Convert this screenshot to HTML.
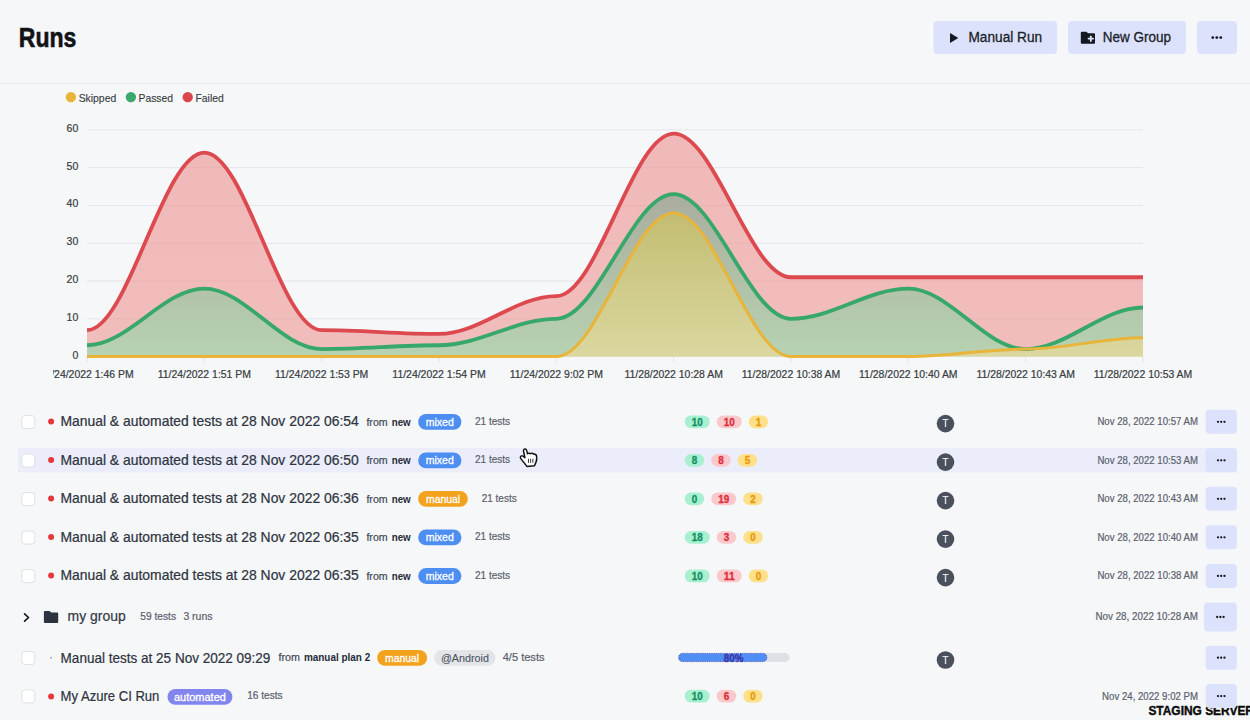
<!DOCTYPE html>
<html><head><meta charset="utf-8"><title>Runs</title>
<style>
html,body{margin:0;padding:0;background:#f6f7f9;width:1250px;height:720px;overflow:hidden;font-family:"Liberation Sans",sans-serif;}
svg{display:block;}
</style></head><body>
<svg width="1250" height="720" viewBox="0 0 1250 720" font-family="Liberation Sans, sans-serif">
<defs>
<clipPath id="chartclip"><rect x="53" y="110" width="1197" height="290"/></clipPath>
<linearGradient id="gr" x1="0" y1="0" x2="0" y2="1"><stop offset="0" stop-color="#ec908e" stop-opacity="0.6"/><stop offset="1" stop-color="#ee9694" stop-opacity="0.6"/></linearGradient>
<linearGradient id="gg" x1="0" y1="0" x2="0" y2="1"><stop offset="0" stop-color="#7ba48c" stop-opacity="0.6"/><stop offset="1" stop-color="#90e1ab" stop-opacity="0.6"/></linearGradient>
<linearGradient id="gy" x1="0" y1="0" x2="0" y2="1"><stop offset="0" stop-color="#d2c552" stop-opacity="0.6"/><stop offset="1" stop-color="#f3db94" stop-opacity="0.6"/></linearGradient>
</defs>
<g id="chart" clip-path="url(#chartclip)">
<line x1="87.0" y1="318.82" x2="1143.0" y2="318.82" stroke="#e3e5ea" stroke-width="1"/>
<line x1="87.0" y1="281.03" x2="1143.0" y2="281.03" stroke="#e3e5ea" stroke-width="1"/>
<line x1="87.0" y1="243.25" x2="1143.0" y2="243.25" stroke="#e3e5ea" stroke-width="1"/>
<line x1="87.0" y1="205.47" x2="1143.0" y2="205.47" stroke="#e3e5ea" stroke-width="1"/>
<line x1="87.0" y1="167.68" x2="1143.0" y2="167.68" stroke="#e3e5ea" stroke-width="1"/>
<line x1="87.0" y1="129.90" x2="1143.0" y2="129.90" stroke="#e3e5ea" stroke-width="1"/>
<line x1="87.00" y1="356.6" x2="87.00" y2="362.6" stroke="#e0e2e6" stroke-width="1"/>
<line x1="204.33" y1="356.6" x2="204.33" y2="362.6" stroke="#e0e2e6" stroke-width="1"/>
<line x1="321.67" y1="356.6" x2="321.67" y2="362.6" stroke="#e0e2e6" stroke-width="1"/>
<line x1="439.00" y1="356.6" x2="439.00" y2="362.6" stroke="#e0e2e6" stroke-width="1"/>
<line x1="556.33" y1="356.6" x2="556.33" y2="362.6" stroke="#e0e2e6" stroke-width="1"/>
<line x1="673.67" y1="356.6" x2="673.67" y2="362.6" stroke="#e0e2e6" stroke-width="1"/>
<line x1="791.00" y1="356.6" x2="791.00" y2="362.6" stroke="#e0e2e6" stroke-width="1"/>
<line x1="908.33" y1="356.6" x2="908.33" y2="362.6" stroke="#e0e2e6" stroke-width="1"/>
<line x1="1025.67" y1="356.6" x2="1025.67" y2="362.6" stroke="#e0e2e6" stroke-width="1"/>
<line x1="1143.00" y1="356.6" x2="1143.00" y2="362.6" stroke="#e0e2e6" stroke-width="1"/>
<path d="M87.00,330.15 C128.07,330.15 163.27,152.57 204.33,152.57 C245.40,152.57 280.60,330.15 321.67,330.15 C362.73,330.15 397.93,333.93 439.00,333.93 C480.07,333.93 515.27,296.15 556.33,296.15 C597.40,296.15 632.60,133.68 673.67,133.68 C714.73,133.68 749.93,277.25 791.00,277.25 C832.07,277.25 867.27,277.25 908.33,277.25 C949.40,277.25 984.60,277.25 1025.67,277.25 C1066.73,277.25 1101.93,277.25 1143.00,277.25 L1143.00,356.60 L87.00,356.60 Z" fill="url(#gr)"/>
<path d="M87.00,345.27 C128.07,345.27 163.27,288.59 204.33,288.59 C245.40,288.59 280.60,349.04 321.67,349.04 C362.73,349.04 397.93,345.27 439.00,345.27 C480.07,345.27 515.27,318.82 556.33,318.82 C597.40,318.82 632.60,194.13 673.67,194.13 C714.73,194.13 749.93,318.82 791.00,318.82 C832.07,318.82 867.27,288.59 908.33,288.59 C949.40,288.59 984.60,349.04 1025.67,349.04 C1066.73,349.04 1101.93,307.48 1143.00,307.48 L1143.00,356.60 L87.00,356.60 Z" fill="url(#gg)"/>
<path d="M87.00,356.60 C128.07,356.60 163.27,356.60 204.33,356.60 C245.40,356.60 280.60,356.60 321.67,356.60 C362.73,356.60 397.93,356.60 439.00,356.60 C480.07,356.60 515.27,356.60 556.33,356.60 C597.40,356.60 632.60,213.02 673.67,213.02 C714.73,213.02 749.93,356.60 791.00,356.60 C832.07,356.60 867.27,356.60 908.33,356.60 C949.40,356.60 984.60,349.04 1025.67,349.04 C1066.73,349.04 1101.93,337.71 1143.00,337.71 L1143.00,356.60 L87.00,356.60 Z" fill="url(#gy)"/>
<path d="M87.00,330.15 C128.07,330.15 163.27,152.57 204.33,152.57 C245.40,152.57 280.60,330.15 321.67,330.15 C362.73,330.15 397.93,333.93 439.00,333.93 C480.07,333.93 515.27,296.15 556.33,296.15 C597.40,296.15 632.60,133.68 673.67,133.68 C714.73,133.68 749.93,277.25 791.00,277.25 C832.07,277.25 867.27,277.25 908.33,277.25 C949.40,277.25 984.60,277.25 1025.67,277.25 C1066.73,277.25 1101.93,277.25 1143.00,277.25" fill="none" stroke="#dc4a4f" stroke-width="3.8"/>
<path d="M87.00,345.27 C128.07,345.27 163.27,288.59 204.33,288.59 C245.40,288.59 280.60,349.04 321.67,349.04 C362.73,349.04 397.93,345.27 439.00,345.27 C480.07,345.27 515.27,318.82 556.33,318.82 C597.40,318.82 632.60,194.13 673.67,194.13 C714.73,194.13 749.93,318.82 791.00,318.82 C832.07,318.82 867.27,288.59 908.33,288.59 C949.40,288.59 984.60,349.04 1025.67,349.04 C1066.73,349.04 1101.93,307.48 1143.00,307.48" fill="none" stroke="#38a86a" stroke-width="3.8"/>
<path d="M87.00,356.60 C128.07,356.60 163.27,356.60 204.33,356.60 C245.40,356.60 280.60,356.60 321.67,356.60 C362.73,356.60 397.93,356.60 439.00,356.60 C480.07,356.60 515.27,356.60 556.33,356.60 C597.40,356.60 632.60,213.02 673.67,213.02 C714.73,213.02 749.93,356.60 791.00,356.60 C832.07,356.60 867.27,356.60 908.33,356.60 C949.40,356.60 984.60,349.04 1025.67,349.04 C1066.73,349.04 1101.93,337.71 1143.00,337.71" fill="none" stroke="#e8b43a" stroke-width="3"/>
<text x="78.3" y="358.50" font-size="10.5" fill="#373d3f" text-anchor="end" stroke="#373d3f" stroke-width="0.2">0</text>
<text x="78.3" y="320.72" font-size="10.5" fill="#373d3f" text-anchor="end" stroke="#373d3f" stroke-width="0.2">10</text>
<text x="78.3" y="282.93" font-size="10.5" fill="#373d3f" text-anchor="end" stroke="#373d3f" stroke-width="0.2">20</text>
<text x="78.3" y="245.15" font-size="10.5" fill="#373d3f" text-anchor="end" stroke="#373d3f" stroke-width="0.2">30</text>
<text x="78.3" y="207.37" font-size="10.5" fill="#373d3f" text-anchor="end" stroke="#373d3f" stroke-width="0.2">40</text>
<text x="78.3" y="169.58" font-size="10.5" fill="#373d3f" text-anchor="end" stroke="#373d3f" stroke-width="0.2">50</text>
<text x="78.3" y="131.80" font-size="10.5" fill="#373d3f" text-anchor="end" stroke="#373d3f" stroke-width="0.2">60</text>
<text x="87.00" y="378.4" font-size="10.1" fill="#373d3f" textLength="93.3" lengthAdjust="spacingAndGlyphs" text-anchor="middle" stroke="#373d3f" stroke-width="0.2">11/24/2022 1:46 PM</text>
<text x="204.33" y="378.4" font-size="10.1" fill="#373d3f" textLength="93.3" lengthAdjust="spacingAndGlyphs" text-anchor="middle" stroke="#373d3f" stroke-width="0.2">11/24/2022 1:51 PM</text>
<text x="321.67" y="378.4" font-size="10.1" fill="#373d3f" textLength="93.3" lengthAdjust="spacingAndGlyphs" text-anchor="middle" stroke="#373d3f" stroke-width="0.2">11/24/2022 1:53 PM</text>
<text x="439.00" y="378.4" font-size="10.1" fill="#373d3f" textLength="93.3" lengthAdjust="spacingAndGlyphs" text-anchor="middle" stroke="#373d3f" stroke-width="0.2">11/24/2022 1:54 PM</text>
<text x="556.33" y="378.4" font-size="10.1" fill="#373d3f" textLength="93.3" lengthAdjust="spacingAndGlyphs" text-anchor="middle" stroke="#373d3f" stroke-width="0.2">11/24/2022 9:02 PM</text>
<text x="673.67" y="378.4" font-size="10.1" fill="#373d3f" textLength="98.5" lengthAdjust="spacingAndGlyphs" text-anchor="middle" stroke="#373d3f" stroke-width="0.2">11/28/2022 10:28 AM</text>
<text x="791.00" y="378.4" font-size="10.1" fill="#373d3f" textLength="98.5" lengthAdjust="spacingAndGlyphs" text-anchor="middle" stroke="#373d3f" stroke-width="0.2">11/28/2022 10:38 AM</text>
<text x="908.33" y="378.4" font-size="10.1" fill="#373d3f" textLength="98.5" lengthAdjust="spacingAndGlyphs" text-anchor="middle" stroke="#373d3f" stroke-width="0.2">11/28/2022 10:40 AM</text>
<text x="1025.67" y="378.4" font-size="10.1" fill="#373d3f" textLength="98.5" lengthAdjust="spacingAndGlyphs" text-anchor="middle" stroke="#373d3f" stroke-width="0.2">11/28/2022 10:43 AM</text>
<text x="1143.00" y="378.4" font-size="10.1" fill="#373d3f" textLength="98.5" lengthAdjust="spacingAndGlyphs" text-anchor="middle" stroke="#373d3f" stroke-width="0.2">11/28/2022 10:53 AM</text>
</g>
<circle cx="70.9" cy="97.1" r="5.2" fill="#e8b43a"/>
<text x="78.7" y="102.3" font-size="11.5" fill="#373d3f" textLength="37.5" lengthAdjust="spacingAndGlyphs" stroke="#373d3f" stroke-width="0.15">Skipped</text>
<circle cx="130.9" cy="97.1" r="5.2" fill="#3aa96b"/>
<text x="138.6" y="102.3" font-size="11.5" fill="#373d3f" textLength="34.4" lengthAdjust="spacingAndGlyphs" stroke="#373d3f" stroke-width="0.15">Passed</text>
<circle cx="187.7" cy="97.1" r="5.2" fill="#d9474d"/>
<text x="195.5" y="102.3" font-size="11.5" fill="#373d3f" textLength="28.2" lengthAdjust="spacingAndGlyphs" stroke="#373d3f" stroke-width="0.15">Failed</text>
<text x="18.8" y="46.8" font-size="27" fill="#111318" textLength="57.6" lengthAdjust="spacingAndGlyphs" font-weight="bold" stroke="#111318" stroke-width="0.6">Runs</text>
<rect x="0" y="83" width="1250" height="1" fill="#e6e8ec"/>
<rect x="933.5" y="21" width="123.6" height="33" rx="4" fill="#dce2fb"/>
<path d="M950,33.1 L958.3,38 L950,43 Z" fill="#151821"/>
<text x="968.5" y="42.1" font-size="13.8" fill="#1b1f2a" textLength="73.6" lengthAdjust="spacingAndGlyphs" stroke="#1b1f2a" stroke-width="0.3">Manual Run</text>
<rect x="1068" y="21" width="118" height="33" rx="4" fill="#dce2fb"/>
<path d="M1081.8,31.8 H1086.5 L1088,33.2 H1094 a1,1 0 0 1 1,1 V42.7 a1,1 0 0 1 -1,1 H1081.8 a1,1 0 0 1 -1,-1 V32.8 a1,1 0 0 1 1,-1 Z" fill="#151821"/>
<path d="M1090.8,35.7 V41.7 M1087.8,38.7 H1093.8" stroke="#dce2fb" stroke-width="1.8"/>
<text x="1102.8" y="41.9" font-size="13.8" fill="#1b1f2a" textLength="68.2" lengthAdjust="spacingAndGlyphs" stroke="#1b1f2a" stroke-width="0.3">New Group</text>
<rect x="1197" y="21" width="40" height="33" rx="4" fill="#dce2fb"/>
<circle cx="1212.8" cy="37.6" r="1.4" fill="#151821"/>
<circle cx="1216.8" cy="37.6" r="1.4" fill="#151821"/>
<circle cx="1220.8" cy="37.6" r="1.4" fill="#151821"/>
<rect x="18" y="448" width="1219" height="24.5" fill="#ebedfb"/>
<rect x="21.8" y="415.6" width="13" height="13" rx="3" fill="#ffffff" stroke="#dfe1e5" stroke-width="1"/>
<circle cx="51.1" cy="421.5" r="3" fill="#e5383b"/>
<text x="60.4" y="426.3" font-size="13.9" fill="#2e3440" textLength="298.4" lengthAdjust="spacingAndGlyphs" stroke="#2e3440" stroke-width="0.22">Manual &amp; automated tests at 28 Nov 2022 06:54</text>
<text x="366.4" y="425.5" font-size="11.4" fill="#444b57" textLength="21.3" lengthAdjust="spacingAndGlyphs" stroke="#444b57" stroke-width="0.22">from</text>
<text x="391.7" y="425.5" font-size="11.4" fill="#262c38" textLength="19" lengthAdjust="spacingAndGlyphs" font-weight="bold">new</text>
<rect x="418.2" y="414.0" width="43.2" height="15.8" rx="7.9" fill="#4d8ef2"/><text x="439.8" y="425.7" font-size="11.3" fill="#ffffff" textLength="28" lengthAdjust="spacingAndGlyphs" text-anchor="middle" stroke="#ffffff" stroke-width="0.3">mixed</text>
<text x="475" y="424.7" font-size="10.6" fill="#5a616d" textLength="35" lengthAdjust="spacingAndGlyphs" stroke="#5a616d" stroke-width="0.2">21 tests</text>
<rect x="684.7" y="415.4" width="25" height="12.8" rx="6.4" fill="#a8f0d1"/><text x="697.2" y="425.7" font-size="11" fill="#13925f" textLength="11" lengthAdjust="spacingAndGlyphs" font-weight="bold" text-anchor="middle" stroke="#13925f" stroke-width="0.35">10</text><rect x="716.7" y="415.4" width="25" height="12.8" rx="6.4" fill="#fbc9cc"/><text x="729.2" y="425.7" font-size="11" fill="#dc2f3b" textLength="11" lengthAdjust="spacingAndGlyphs" font-weight="bold" text-anchor="middle" stroke="#dc2f3b" stroke-width="0.35">10</text><rect x="748.7" y="415.4" width="19.5" height="12.8" rx="6.4" fill="#fde089"/><text x="758.5" y="425.7" font-size="11" fill="#e89a0c" textLength="5.5" lengthAdjust="spacingAndGlyphs" font-weight="bold" text-anchor="middle" stroke="#e89a0c" stroke-width="0.35">1</text>
<circle cx="945.5" cy="423.6" r="8.8" fill="#4a505c"/><text x="945.5" y="427.4" font-size="10.5" fill="#ffffff" text-anchor="middle">T</text>
<text x="1198" y="425.2" font-size="10.4" fill="#5a616d" textLength="100.6" lengthAdjust="spacingAndGlyphs" text-anchor="end" stroke="#5a616d" stroke-width="0.2">Nov 28, 2022 10:57 AM</text>
<rect x="1205.6" y="409.8" width="31.3" height="24" rx="4" fill="#dce2fb"/><circle cx="1218.0" cy="421.8" r="1.15" fill="#151821"/><circle cx="1221.2" cy="421.8" r="1.15" fill="#151821"/><circle cx="1224.5" cy="421.8" r="1.15" fill="#151821"/>
<rect x="21.8" y="454.1" width="13" height="13" rx="3" fill="#ffffff" stroke="#dfe1e5" stroke-width="1"/>
<circle cx="51.1" cy="460.0" r="3" fill="#e5383b"/>
<text x="60.4" y="464.8" font-size="13.9" fill="#2e3440" textLength="298.4" lengthAdjust="spacingAndGlyphs" stroke="#2e3440" stroke-width="0.22">Manual &amp; automated tests at 28 Nov 2022 06:50</text>
<text x="366.4" y="464.0" font-size="11.4" fill="#444b57" textLength="21.3" lengthAdjust="spacingAndGlyphs" stroke="#444b57" stroke-width="0.22">from</text>
<text x="391.7" y="464.0" font-size="11.4" fill="#262c38" textLength="19" lengthAdjust="spacingAndGlyphs" font-weight="bold">new</text>
<rect x="418.2" y="452.5" width="43.2" height="15.8" rx="7.9" fill="#4d8ef2"/><text x="439.8" y="464.2" font-size="11.3" fill="#ffffff" textLength="28" lengthAdjust="spacingAndGlyphs" text-anchor="middle" stroke="#ffffff" stroke-width="0.3">mixed</text>
<text x="475" y="463.2" font-size="10.6" fill="#5a616d" textLength="35" lengthAdjust="spacingAndGlyphs" stroke="#5a616d" stroke-width="0.2">21 tests</text>
<rect x="684.7" y="453.9" width="19.5" height="12.8" rx="6.4" fill="#a8f0d1"/><text x="694.5" y="464.2" font-size="11" fill="#13925f" textLength="5.5" lengthAdjust="spacingAndGlyphs" font-weight="bold" text-anchor="middle" stroke="#13925f" stroke-width="0.35">8</text><rect x="711.2" y="453.9" width="19.5" height="12.8" rx="6.4" fill="#fbc9cc"/><text x="721.0" y="464.2" font-size="11" fill="#dc2f3b" textLength="5.5" lengthAdjust="spacingAndGlyphs" font-weight="bold" text-anchor="middle" stroke="#dc2f3b" stroke-width="0.35">8</text><rect x="737.7" y="453.9" width="19.5" height="12.8" rx="6.4" fill="#fde089"/><text x="747.5" y="464.2" font-size="11" fill="#e89a0c" textLength="5.5" lengthAdjust="spacingAndGlyphs" font-weight="bold" text-anchor="middle" stroke="#e89a0c" stroke-width="0.35">5</text>
<circle cx="945.5" cy="462.1" r="8.8" fill="#4a505c"/><text x="945.5" y="465.9" font-size="10.5" fill="#ffffff" text-anchor="middle">T</text>
<text x="1198" y="463.7" font-size="10.4" fill="#5a616d" textLength="100.6" lengthAdjust="spacingAndGlyphs" text-anchor="end" stroke="#5a616d" stroke-width="0.2">Nov 28, 2022 10:53 AM</text>
<rect x="1205.6" y="448.3" width="31.3" height="24" rx="4" fill="#dce2fb"/><circle cx="1218.0" cy="460.3" r="1.15" fill="#151821"/><circle cx="1221.2" cy="460.3" r="1.15" fill="#151821"/><circle cx="1224.5" cy="460.3" r="1.15" fill="#151821"/>
<rect x="21.8" y="492.6" width="13" height="13" rx="3" fill="#ffffff" stroke="#dfe1e5" stroke-width="1"/>
<circle cx="51.1" cy="498.5" r="3" fill="#e5383b"/>
<text x="60.4" y="503.3" font-size="13.9" fill="#2e3440" textLength="298.4" lengthAdjust="spacingAndGlyphs" stroke="#2e3440" stroke-width="0.22">Manual &amp; automated tests at 28 Nov 2022 06:36</text>
<text x="366.4" y="502.5" font-size="11.4" fill="#444b57" textLength="21.3" lengthAdjust="spacingAndGlyphs" stroke="#444b57" stroke-width="0.22">from</text>
<text x="391.7" y="502.5" font-size="11.4" fill="#262c38" textLength="19" lengthAdjust="spacingAndGlyphs" font-weight="bold">new</text>
<rect x="418.2" y="491.0" width="49.6" height="15.8" rx="7.9" fill="#f2a21c"/><text x="443.0" y="502.7" font-size="11.3" fill="#ffffff" textLength="34" lengthAdjust="spacingAndGlyphs" text-anchor="middle" stroke="#ffffff" stroke-width="0.3">manual</text>
<text x="481.7" y="501.7" font-size="10.6" fill="#5a616d" textLength="35" lengthAdjust="spacingAndGlyphs" stroke="#5a616d" stroke-width="0.2">21 tests</text>
<rect x="684.7" y="492.4" width="19.5" height="12.8" rx="6.4" fill="#a8f0d1"/><text x="694.5" y="502.7" font-size="11" fill="#13925f" textLength="5.5" lengthAdjust="spacingAndGlyphs" font-weight="bold" text-anchor="middle" stroke="#13925f" stroke-width="0.35">0</text><rect x="711.2" y="492.4" width="25" height="12.8" rx="6.4" fill="#fbc9cc"/><text x="723.7" y="502.7" font-size="11" fill="#dc2f3b" textLength="11" lengthAdjust="spacingAndGlyphs" font-weight="bold" text-anchor="middle" stroke="#dc2f3b" stroke-width="0.35">19</text><rect x="743.2" y="492.4" width="19.5" height="12.8" rx="6.4" fill="#fde089"/><text x="753.0" y="502.7" font-size="11" fill="#e89a0c" textLength="5.5" lengthAdjust="spacingAndGlyphs" font-weight="bold" text-anchor="middle" stroke="#e89a0c" stroke-width="0.35">2</text>
<circle cx="945.5" cy="500.6" r="8.8" fill="#4a505c"/><text x="945.5" y="504.4" font-size="10.5" fill="#ffffff" text-anchor="middle">T</text>
<text x="1198" y="502.2" font-size="10.4" fill="#5a616d" textLength="100.6" lengthAdjust="spacingAndGlyphs" text-anchor="end" stroke="#5a616d" stroke-width="0.2">Nov 28, 2022 10:43 AM</text>
<rect x="1205.6" y="486.8" width="31.3" height="24" rx="4" fill="#dce2fb"/><circle cx="1218.0" cy="498.8" r="1.15" fill="#151821"/><circle cx="1221.2" cy="498.8" r="1.15" fill="#151821"/><circle cx="1224.5" cy="498.8" r="1.15" fill="#151821"/>
<rect x="21.8" y="531.1" width="13" height="13" rx="3" fill="#ffffff" stroke="#dfe1e5" stroke-width="1"/>
<circle cx="51.1" cy="537.0" r="3" fill="#e5383b"/>
<text x="60.4" y="541.8" font-size="13.9" fill="#2e3440" textLength="298.4" lengthAdjust="spacingAndGlyphs" stroke="#2e3440" stroke-width="0.22">Manual &amp; automated tests at 28 Nov 2022 06:35</text>
<text x="366.4" y="541.0" font-size="11.4" fill="#444b57" textLength="21.3" lengthAdjust="spacingAndGlyphs" stroke="#444b57" stroke-width="0.22">from</text>
<text x="391.7" y="541.0" font-size="11.4" fill="#262c38" textLength="19" lengthAdjust="spacingAndGlyphs" font-weight="bold">new</text>
<rect x="418.2" y="529.5" width="43.2" height="15.8" rx="7.9" fill="#4d8ef2"/><text x="439.8" y="541.2" font-size="11.3" fill="#ffffff" textLength="28" lengthAdjust="spacingAndGlyphs" text-anchor="middle" stroke="#ffffff" stroke-width="0.3">mixed</text>
<text x="475" y="540.2" font-size="10.6" fill="#5a616d" textLength="35" lengthAdjust="spacingAndGlyphs" stroke="#5a616d" stroke-width="0.2">21 tests</text>
<rect x="684.7" y="530.9" width="25" height="12.8" rx="6.4" fill="#a8f0d1"/><text x="697.2" y="541.2" font-size="11" fill="#13925f" textLength="11" lengthAdjust="spacingAndGlyphs" font-weight="bold" text-anchor="middle" stroke="#13925f" stroke-width="0.35">18</text><rect x="716.7" y="530.9" width="19.5" height="12.8" rx="6.4" fill="#fbc9cc"/><text x="726.5" y="541.2" font-size="11" fill="#dc2f3b" textLength="5.5" lengthAdjust="spacingAndGlyphs" font-weight="bold" text-anchor="middle" stroke="#dc2f3b" stroke-width="0.35">3</text><rect x="743.2" y="530.9" width="19.5" height="12.8" rx="6.4" fill="#fde089"/><text x="753.0" y="541.2" font-size="11" fill="#e89a0c" textLength="5.5" lengthAdjust="spacingAndGlyphs" font-weight="bold" text-anchor="middle" stroke="#e89a0c" stroke-width="0.35">0</text>
<circle cx="945.5" cy="539.1" r="8.8" fill="#4a505c"/><text x="945.5" y="542.9" font-size="10.5" fill="#ffffff" text-anchor="middle">T</text>
<text x="1198" y="540.7" font-size="10.4" fill="#5a616d" textLength="100.6" lengthAdjust="spacingAndGlyphs" text-anchor="end" stroke="#5a616d" stroke-width="0.2">Nov 28, 2022 10:40 AM</text>
<rect x="1205.6" y="525.3" width="31.3" height="24" rx="4" fill="#dce2fb"/><circle cx="1218.0" cy="537.3" r="1.15" fill="#151821"/><circle cx="1221.2" cy="537.3" r="1.15" fill="#151821"/><circle cx="1224.5" cy="537.3" r="1.15" fill="#151821"/>
<rect x="21.8" y="569.6" width="13" height="13" rx="3" fill="#ffffff" stroke="#dfe1e5" stroke-width="1"/>
<circle cx="51.1" cy="575.6" r="3" fill="#e5383b"/>
<text x="60.4" y="580.4" font-size="13.9" fill="#2e3440" textLength="298.4" lengthAdjust="spacingAndGlyphs" stroke="#2e3440" stroke-width="0.22">Manual &amp; automated tests at 28 Nov 2022 06:35</text>
<text x="366.4" y="579.6" font-size="11.4" fill="#444b57" textLength="21.3" lengthAdjust="spacingAndGlyphs" stroke="#444b57" stroke-width="0.22">from</text>
<text x="391.7" y="579.6" font-size="11.4" fill="#262c38" textLength="19" lengthAdjust="spacingAndGlyphs" font-weight="bold">new</text>
<rect x="418.2" y="568.1" width="43.2" height="15.8" rx="7.9" fill="#4d8ef2"/><text x="439.8" y="579.8" font-size="11.3" fill="#ffffff" textLength="28" lengthAdjust="spacingAndGlyphs" text-anchor="middle" stroke="#ffffff" stroke-width="0.3">mixed</text>
<text x="475" y="578.8" font-size="10.6" fill="#5a616d" textLength="35" lengthAdjust="spacingAndGlyphs" stroke="#5a616d" stroke-width="0.2">21 tests</text>
<rect x="684.7" y="569.5" width="25" height="12.8" rx="6.4" fill="#a8f0d1"/><text x="697.2" y="579.8" font-size="11" fill="#13925f" textLength="11" lengthAdjust="spacingAndGlyphs" font-weight="bold" text-anchor="middle" stroke="#13925f" stroke-width="0.35">10</text><rect x="716.7" y="569.5" width="25" height="12.8" rx="6.4" fill="#fbc9cc"/><text x="729.2" y="579.8" font-size="11" fill="#dc2f3b" textLength="11" lengthAdjust="spacingAndGlyphs" font-weight="bold" text-anchor="middle" stroke="#dc2f3b" stroke-width="0.35">11</text><rect x="748.7" y="569.5" width="19.5" height="12.8" rx="6.4" fill="#fde089"/><text x="758.5" y="579.8" font-size="11" fill="#e89a0c" textLength="5.5" lengthAdjust="spacingAndGlyphs" font-weight="bold" text-anchor="middle" stroke="#e89a0c" stroke-width="0.35">0</text>
<circle cx="945.5" cy="577.6" r="8.8" fill="#4a505c"/><text x="945.5" y="581.5" font-size="10.5" fill="#ffffff" text-anchor="middle">T</text>
<text x="1198" y="579.2" font-size="10.4" fill="#5a616d" textLength="100.6" lengthAdjust="spacingAndGlyphs" text-anchor="end" stroke="#5a616d" stroke-width="0.2">Nov 28, 2022 10:38 AM</text>
<rect x="1205.6" y="563.9" width="31.3" height="24" rx="4" fill="#dce2fb"/><circle cx="1218.0" cy="575.9" r="1.15" fill="#151821"/><circle cx="1221.2" cy="575.9" r="1.15" fill="#151821"/><circle cx="1224.5" cy="575.9" r="1.15" fill="#151821"/>
<path d="M24.6,613.9 L28.5,617.5 L24.6,621.1" fill="none" stroke="#15181f" stroke-width="1.7" stroke-linecap="round" stroke-linejoin="round"/>
<path d="M44.9,610.9 H49.6 L51.2,612.4 H57.2 a1,1 0 0 1 1,1 V621.9 a1,1 0 0 1 -1,1 H44.9 a1,1 0 0 1 -1,-1 V611.9 a1,1 0 0 1 1,-1 Z" fill="#2b3240"/>
<text x="67.6" y="621" font-size="15.2" fill="#333a46" textLength="58.1" lengthAdjust="spacingAndGlyphs" stroke="#333a46" stroke-width="0.22">my group</text>
<text x="140.3" y="620.4" font-size="10.6" fill="#5a616d" textLength="35.7" lengthAdjust="spacingAndGlyphs" stroke="#5a616d" stroke-width="0.2">59 tests</text>
<text x="183.4" y="620.4" font-size="10.6" fill="#5a616d" textLength="29.1" lengthAdjust="spacingAndGlyphs" stroke="#5a616d" stroke-width="0.2">3 runs</text>
<text x="1198" y="620.4" font-size="10.4" fill="#5a616d" textLength="102.5" lengthAdjust="spacingAndGlyphs" text-anchor="end" stroke="#5a616d" stroke-width="0.2">Nov 28, 2022 10:28 AM</text>
<rect x="1203.9" y="602.4" width="33" height="29.2" rx="4" fill="#dce2fb"/><circle cx="1217.2" cy="617.0" r="1.15" fill="#151821"/><circle cx="1220.4" cy="617.0" r="1.15" fill="#151821"/><circle cx="1223.6" cy="617.0" r="1.15" fill="#151821"/>
<rect x="21.8" y="651.5" width="13" height="13" rx="3" fill="#ffffff" stroke="#dfe1e5" stroke-width="1"/>
<circle cx="51" cy="657.7" r="0.9" fill="#9aa0a8"/>
<text x="60.6" y="662.8000000000001" font-size="13.9" fill="#2e3440" textLength="209.8" lengthAdjust="spacingAndGlyphs" stroke="#2e3440" stroke-width="0.22">Manual tests at 25 Nov 2022 09:29</text>
<text x="278.4" y="661.4000000000001" font-size="11.4" fill="#444b57" textLength="21.5" lengthAdjust="spacingAndGlyphs" stroke="#444b57" stroke-width="0.22">from</text>
<text x="303.9" y="661.4000000000001" font-size="11.4" fill="#262c38" textLength="66.3" lengthAdjust="spacingAndGlyphs" font-weight="bold">manual plan 2</text>
<rect x="377.2" y="649.9" width="49.9" height="15.8" rx="7.9" fill="#f2a21c"/><text x="402.1" y="661.6" font-size="11.3" fill="#ffffff" textLength="34" lengthAdjust="spacingAndGlyphs" text-anchor="middle" stroke="#ffffff" stroke-width="0.3">manual</text>
<rect x="434.3" y="649.9" width="61.2" height="15.8" rx="7.9" fill="#e3e5e9"/><text x="464.9" y="661.6" font-size="11.3" fill="#4b5260" textLength="48" lengthAdjust="spacingAndGlyphs" text-anchor="middle" stroke="#4b5260" stroke-width="0.1">@Android</text>
<text x="502.7" y="660.6" font-size="10.6" fill="#5a616d" textLength="41.8" lengthAdjust="spacingAndGlyphs" stroke="#5a616d" stroke-width="0.2">4/5 tests</text>
<rect x="678.1" y="653.1" width="111.5" height="8.8" rx="4.4" fill="#dde0e5"/>
<rect x="678.6" y="653.4" width="88.3" height="8.2" rx="4.1" fill="#4f8ef5" stroke="#3f46b8" stroke-width="0.7" stroke-dasharray="1.3 0.9"/>
<text x="733.6" y="661.5" font-size="10.2" fill="#3a33a6" textLength="19.5" lengthAdjust="spacingAndGlyphs" font-weight="bold" text-anchor="middle" stroke="#3a33a6" stroke-width="0.3">80%</text>
<circle cx="945.5" cy="660.0" r="8.8" fill="#4a505c"/><text x="945.5" y="663.8" font-size="10.5" fill="#ffffff" text-anchor="middle">T</text>
<rect x="1205.6" y="645.7" width="31.3" height="24" rx="4" fill="#dce2fb"/><circle cx="1218.0" cy="657.7" r="1.15" fill="#151821"/><circle cx="1221.2" cy="657.7" r="1.15" fill="#151821"/><circle cx="1224.5" cy="657.7" r="1.15" fill="#151821"/>
<rect x="21.8" y="689.9" width="13" height="13" rx="3" fill="#ffffff" stroke="#dfe1e5" stroke-width="1"/>
<circle cx="51.1" cy="696.4" r="3" fill="#e5383b"/>
<text x="60.6" y="700.7" font-size="13.9" fill="#2e3440" textLength="98.8" lengthAdjust="spacingAndGlyphs" stroke="#2e3440" stroke-width="0.22">My Azure CI Run</text>
<rect x="167.5" y="689.0" width="64.9" height="15.8" rx="7.9" fill="#8385ef"/><text x="199.9" y="700.7" font-size="11.3" fill="#ffffff" textLength="52" lengthAdjust="spacingAndGlyphs" text-anchor="middle" stroke="#ffffff" stroke-width="0.3">automated</text>
<text x="247.2" y="699.0" font-size="10.6" fill="#5a616d" textLength="35.5" lengthAdjust="spacingAndGlyphs" stroke="#5a616d" stroke-width="0.2">16 tests</text>
<rect x="684.7" y="689.7" width="25" height="12.8" rx="6.4" fill="#a8f0d1"/><text x="697.2" y="700.0" font-size="11" fill="#13925f" textLength="11" lengthAdjust="spacingAndGlyphs" font-weight="bold" text-anchor="middle" stroke="#13925f" stroke-width="0.35">10</text><rect x="716.7" y="689.7" width="19.5" height="12.8" rx="6.4" fill="#fbc9cc"/><text x="726.5" y="700.0" font-size="11" fill="#dc2f3b" textLength="5.5" lengthAdjust="spacingAndGlyphs" font-weight="bold" text-anchor="middle" stroke="#dc2f3b" stroke-width="0.35">6</text><rect x="743.2" y="689.7" width="19.5" height="12.8" rx="6.4" fill="#fde089"/><text x="753.0" y="700.0" font-size="11" fill="#e89a0c" textLength="5.5" lengthAdjust="spacingAndGlyphs" font-weight="bold" text-anchor="middle" stroke="#e89a0c" stroke-width="0.35">0</text>
<text x="1198" y="699.5" font-size="10.4" fill="#5a616d" textLength="95.9" lengthAdjust="spacingAndGlyphs" text-anchor="end" stroke="#5a616d" stroke-width="0.2">Nov 24, 2022 9:02 PM</text>
<text x="1148.4" y="714.5" font-size="13" fill="#0a0a0a" textLength="105.6" lengthAdjust="spacingAndGlyphs" font-weight="bold" stroke="#0a0a0a" stroke-width="0.4">STAGING SERVER</text>
<rect x="1205.6" y="684.1" width="31.3" height="24" rx="4" fill="#dce2fb"/><circle cx="1218.0" cy="696.1" r="1.15" fill="#151821"/><circle cx="1221.2" cy="696.1" r="1.15" fill="#151821"/><circle cx="1224.5" cy="696.1" r="1.15" fill="#151821"/>
<path d="M525.3,449.1 C526.4,449.3 527.1,451.5 527.4,453.8 C528.2,453 529.8,452.9 530.5,453.7 C531.4,453.2 532.8,453.3 533.4,454 C534.6,453.9 536.3,454.3 536.6,456.2 C536.8,458.3 536.6,460.5 536.1,461.9 L534.5,465.7 L526.9,466.4 L520.8,458.6 C520.1,457.6 520.3,456.3 521.4,455.9 C522.6,455.4 523.6,456.6 524.9,457.7 L523.5,451 C523.3,449.9 524.3,448.9 525.3,449.1 Z" fill="#fff" stroke="#111" stroke-width="1.5" stroke-linejoin="round"/>
<path d="M528.5,458.8 V462.8 M530.6,458.8 V462.8 M532.9,458.8 V462.8" stroke="#222" stroke-width="0.9"/>
</svg>
</body></html>
